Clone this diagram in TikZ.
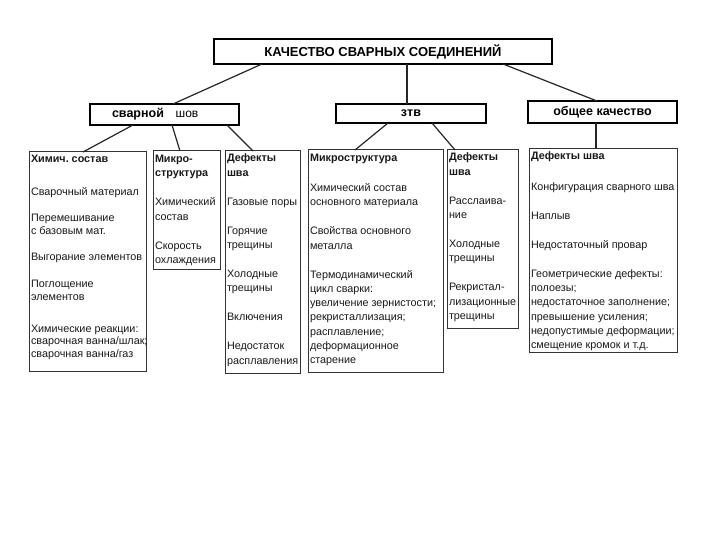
\documentclass[tikz,border=0pt]{standalone}
\usepackage{fontspec}
\setmainfont{Liberation Sans}
\usetikzlibrary{calc}
\begin{document}
\begin{tikzpicture}[x=1pt,y=-1pt,
  hdr/.style={draw=black, line width=1.8pt, inner sep=0pt, outer sep=0pt, anchor=north west},
  hdrtext/.style={inner sep=0pt, font=\fontsize{12.5}{14}\selectfont\bfseries},
  colbox/.style={draw=black!80, line width=1pt, inner sep=0pt, outer sep=0pt, anchor=north west},
  txt/.style={inner sep=0pt, outer sep=0pt, anchor=north west, align=left, text=black!90, font=\fontsize{10.8}{14.3}\selectfont},
  conn/.style={line width=1.2pt, draw=black!85}
]
\useasboundingbox[fill=white] (0,0) rectangle (720,540);

% header boxes
\node[hdr, minimum width=338pt, minimum height=25pt, font=\fontsize{13}{15}\selectfont\bfseries] (top) at (214,39) {КАЧЕСТВО СВАРНЫХ СОЕДИНЕНИЙ};
\node[hdr, minimum width=149pt, minimum height=21pt] (sv) at (90,104) {};
\node[hdrtext] (svt) at (138,114.5) {сварной};
\node[inner sep=0pt, font=\fontsize{12}{14}\selectfont] (sho) at (187,114) {шов};
\node[hdr, minimum width=150pt, minimum height=19pt] (ztv) at (336,104) {};
\node[hdrtext] (ztvt) at (411,113.5) {зтв};
\node[hdr, minimum width=149pt, minimum height=22pt] (ob) at (528,101) {};
\node[hdrtext] (obt) at (602.5,112) {общее качество};

% column boxes
\node[colbox, minimum width=117pt, minimum height=219pt] (c1) at (29,152) {};
\node[colbox, minimum width=67pt, minimum height=118pt] (c2) at (153,151) {};
\node[colbox, minimum width=75pt, minimum height=222pt] (c3) at (225,151) {};
\node[colbox, minimum width=135pt, minimum height=222pt] (c4) at (308,150) {};
\node[colbox, minimum width=71pt, minimum height=178pt] (c5) at (447,150) {};
\node[colbox, minimum width=148pt, minimum height=203pt] (c6) at (529,149) {};

% column texts
\node[txt, font=\fontsize{10.8}{12.5}\selectfont] (t1) at (31,155) {\textbf{Химич.\ состав}\\[21pt]Сварочный материал\\[13.5pt]Перемешивание\\с базовым мат.\\[14pt]Выгорание элементов\\[14.5pt]Поглощение\\элементов\\[19.5pt]Химические реакции:\\сварочная ванна/шлак;\\сварочная ванна/газ};
\node[txt] (t2) at (155,155) {\textbf{Микро-}\\\textbf{структура}\\[14.7pt]Химический\\состав\\[14.7pt]Скорость\\охлаждения};
\node[txt] (t3) at (227,154) {\textbf{Дефекты}\\\textbf{шва}\\[14.7pt]Газовые поры\\[14.7pt]Горячие\\трещины\\[14.7pt]Холодные\\трещины\\[14.7pt]Включения\\[14.7pt]Недостаток\\расплавления};
\node[txt] (t4) at (310,154) {\textbf{Микроструктура}\\[15.7pt]Химический состав\\основного материала\\[14.7pt]Свойства основного\\металла\\[14.7pt]Термодинамический\\цикл сварки:\\увеличение зернистости;\\рекристаллизация;\\расплавление;\\деформационное\\старение};
\node[txt] (t5) at (449,153) {\textbf{Дефекты}\\\textbf{шва}\\[14.7pt]Расслаива-\\ние\\[14.7pt]Холодные\\трещины\\[14.7pt]Рекристал-\\лизационные\\трещины};
\node[txt] (t6) at (531,152) {\textbf{Дефекты шва}\\[16pt]Конфигурация сварного шва\\[14.7pt]Наплыв\\[14.7pt]Недостаточный провар\\[14.7pt]Геометрические дефекты:\\полоезы;\\недостаточное заполнение;\\превышение усиления;\\недопустимые деформации;\\смещение кромок и т.д.};

% connectors
\draw[conn] ([xshift=48pt]top.south west) -- ([xshift=83pt]sv.north west);
\draw[conn] ([xshift=193pt]top.south west) -- ([xshift=71pt]ztv.north west);
\draw[conn] ([xshift=289pt]top.south west) -- ([xshift=69pt]ob.north west);
\draw[conn] ([xshift=43pt]sv.south west) -- ([xshift=54pt]c1.north west);
\draw[conn] ([xshift=82pt]sv.south west) -- ([xshift=27pt]c2.north west);
\draw[conn] ([xshift=137pt]sv.south west) -- ([xshift=28pt]c3.north west);
\draw[conn] ([xshift=52pt]ztv.south west) -- ([xshift=47pt]c4.north west);
\draw[conn] ([xshift=96pt]ztv.south west) -- ([xshift=8pt]c5.north west);
\draw[conn] ([xshift=68pt]ob.south west) -- ([xshift=67pt]c6.north west);
\end{tikzpicture}
\end{document}
